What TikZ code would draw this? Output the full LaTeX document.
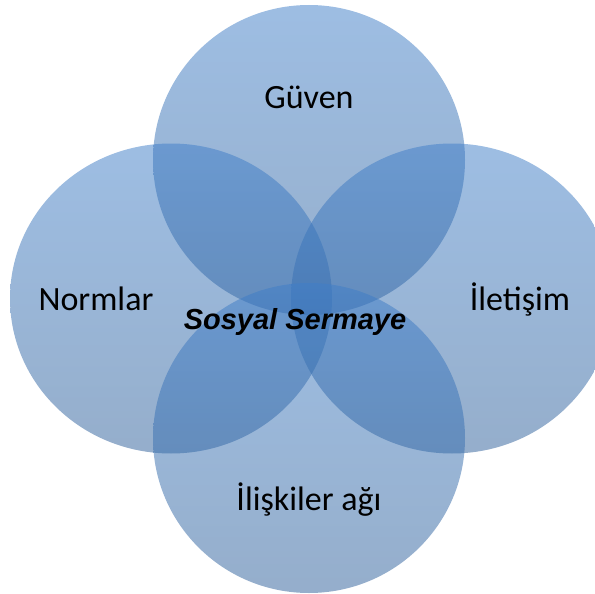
\documentclass[tikz,border=0pt]{standalone}
\usepackage{fontspec}
\usetikzlibrary{shapes.geometric}
\setmainfont{Carlito}
\newfontfamily\arialfont{Liberation Sans}
\definecolor{circtop}{RGB}{63,126,200}
\definecolor{circbottom}{RGB}{47,96,153}
\tikzset{
  bubble/.style={ellipse, minimum height=310pt, minimum width=#1, inner sep=0pt,
    top color=circtop, bottom color=circbottom, fill opacity=0.51},
  bubble/.default=312pt,
  label text/.style={font=\fontsize{34}{38}\selectfont, text=black}
}
\begin{document}
\begin{tikzpicture}[x=1pt,y=-1pt]
\useasboundingbox (0,0) rectangle (595,594);
\node[bubble] (top) at (309,160) {};
\node[bubble=322pt] (left) at (171,298.5) {};
\node[bubble=322pt] (right) at (452,298.5) {};
\node[bubble] (bottom) at (309,438) {};
\node[label text] (guven) at (309,97) {Güven};
\node[label text] (normlar) at (96,299) {Normlar};
\node[label text] (iletisim) at (520,299) {İletişim};
\node[label text] (iliskiler) at (309,500) {İlişkiler ağı};
\node[font=\arialfont\bfseries\itshape\fontsize{29}{33}\selectfont] (sermaye) at (295,322) {Sosyal Sermaye};
\end{tikzpicture}
\end{document}
